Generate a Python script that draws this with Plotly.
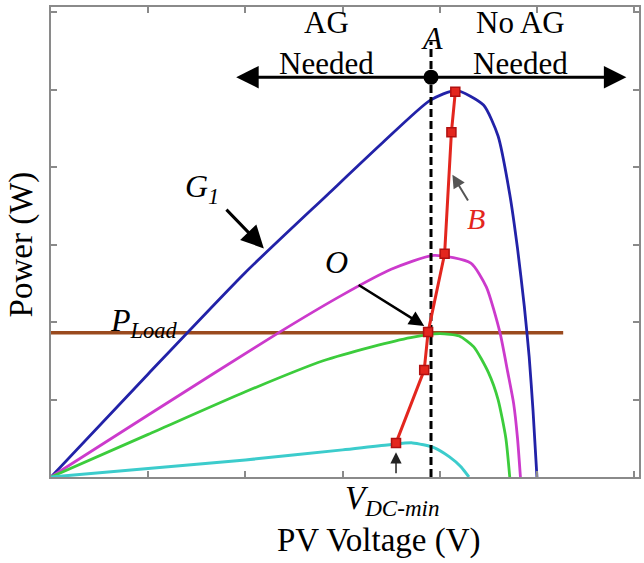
import plotly.graph_objects as go

# ---- data (axis units are arbitrary 0..6 grid) ----
g1_v = [0, 1, 2, 2.85, 3.4, 3.9, 4.17, 4.45, 4.6, 4.72, 4.8, 4.87, 4.92, 4.96, 5.0]
g1_p = [0, 1.33, 2.64, 3.65, 4.3, 4.86, 4.99, 4.8, 4.4, 3.65, 2.95, 2.2, 1.55, 0.85, 0]

g2_v = [0, 1, 2.34, 3.0, 3.5, 3.94, 4.32, 4.48, 4.62, 4.7, 4.76, 4.8, 4.83]
g2_p = [0, 0.8, 1.86, 2.35, 2.68, 2.86, 2.76, 2.45, 1.86, 1.35, 0.95, 0.5, 0]

g3_v = [0, 1, 2, 2.8, 3.3, 3.7, 4.0, 4.2, 4.35, 4.5, 4.6, 4.68, 4.72]
g3_p = [0, 0.55, 1.1, 1.5, 1.68, 1.8, 1.85, 1.82, 1.68, 1.35, 1.0, 0.5, 0]

g4_v = [0, 1, 2, 3, 3.5, 3.72, 3.94, 4.1, 4.22, 4.3]
g4_p = [0, 0.11, 0.22, 0.35, 0.42, 0.44, 0.38, 0.26, 0.13, 0]

mppt_v = [3.55, 3.84, 3.88, 4.05, 4.12, 4.16]
mppt_p = [0.44, 1.38, 1.87, 2.88, 4.45, 4.97]

load_v = [0, 5.27]
load_p = [1.86, 1.86]

vdc_min = 3.91
vdc_line_p = [0, 5.62]
point_a_p = 5.16

FONT = "Liberation Serif"
SMOOTH = 0.6

fig = go.Figure()

fig.add_trace(go.Scatter(x=load_v, y=load_p, mode="lines",
                         line=dict(color="#9a4a1e", width=3.5), hoverinfo="skip"))
fig.add_trace(go.Scatter(x=g1_v, y=g1_p, mode="lines",
                         line=dict(color="#2222a8", width=2.8, shape="spline", smoothing=SMOOTH),
                         hoverinfo="skip"))
fig.add_trace(go.Scatter(x=g2_v, y=g2_p, mode="lines",
                         line=dict(color="#cc3acc", width=2.8, shape="spline", smoothing=SMOOTH),
                         hoverinfo="skip"))
fig.add_trace(go.Scatter(x=g3_v, y=g3_p, mode="lines",
                         line=dict(color="#3ccc3c", width=2.8, shape="spline", smoothing=SMOOTH),
                         hoverinfo="skip"))
fig.add_trace(go.Scatter(x=g4_v, y=g4_p, mode="lines",
                         line=dict(color="#3ccccc", width=3, shape="spline", smoothing=SMOOTH),
                         hoverinfo="skip"))
fig.add_trace(go.Scatter(x=[vdc_min, vdc_min], y=vdc_line_p, mode="lines",
                         line=dict(color="black", width=3, dash="8px,4px"), hoverinfo="skip"))
fig.add_trace(go.Scatter(x=mppt_v, y=mppt_p, mode="lines+markers",
                         line=dict(color="#e3261e", width=3),
                         marker=dict(symbol="square", size=9, color="#e3261e",
                                     line=dict(color="#b01010", width=1.5)),
                         hoverinfo="skip"))
fig.add_trace(go.Scatter(x=[vdc_min], y=[point_a_p], mode="markers",
                         marker=dict(color="black", size=15), hoverinfo="skip"))

ann = []
def txt(x, y, s, size, color="black", ref="", angle=0):
    ann.append(dict(x=x, y=y, xref=ref or "x", yref=ref or "y", text=s, showarrow=False,
                    textangle=angle,
                    font=dict(family=FONT, size=size, color=color),
                    xanchor="center", yanchor="middle"))

def arrow(x, y, ax, ay, color="black", width=3, size=1.5, head=2, side="end"):
    ann.append(dict(x=x, y=y, ax=ax, ay=ay, xref="x", yref="y", axref="x", ayref="y",
                    text="", showarrow=True, arrowhead=head, arrowsize=size,
                    arrowwidth=width, arrowcolor=color, arrowside=side, standoff=0,
                    startstandoff=0))

txt(2.83, 5.86, "AG", 31)
txt(2.83, 5.33, "Needed", 31)
txt(4.83, 5.86, "No AG", 31)
txt(4.83, 5.33, "Needed", 31)
txt(3.92, 5.66, "<i>A</i>", 32)
txt(1.55, 3.72, "<i>G<sub>1</sub></i>", 32)
txt(4.37, 3.34, "<i>B</i>", 30, "#e3261e")
txt(2.94, 2.77, "<i>O</i>", 32)
txt(0.95, 2.0, "<i>P<sub>Load</sub></i>", 32)
txt(0.58, -0.049, "<i>V<sub>DC-min</sub></i>", 33, ref="paper")
txt(0.558, -0.136, "PV Voltage (V)", 33, ref="paper")
txt(-0.05, 0.494, "Power (W)", 33, ref="paper", angle=-90)

arrow(5.92, point_a_p, 1.89, point_a_p, width=3, size=1.5, side="end+start")
arrow(2.19, 2.95, 1.79, 3.47, width=3, size=1.5)
arrow(3.84, 1.95, 3.15, 2.49, width=2.5, size=1.2)
arrow(4.13, 3.9, 4.3, 3.55, color="#555555", width=2, size=1.3)
arrow(3.55, 0.32, 3.55, 0.03, color="#222222", width=1.5, size=1.5)

axis_common = dict(showgrid=False, zeroline=False, showticklabels=False,
                   ticks="inside", ticklen=6, tickwidth=1.5, tickcolor="#8a8a8a",
                   showline=True, linecolor="#8a8a8a", linewidth=2, mirror="ticks",
                   dtick=1, tick0=0)

fig.update_layout(
    width=644, height=563,
    margin=dict(l=51, r=3, t=7, b=86),
    paper_bgcolor="white", plot_bgcolor="white",
    showlegend=False,
    xaxis=dict(range=[0, 6.05], **axis_common),
    yaxis=dict(range=[0, 6.065], **axis_common),
    annotations=ann,
)

fig.write_html("out.html")
